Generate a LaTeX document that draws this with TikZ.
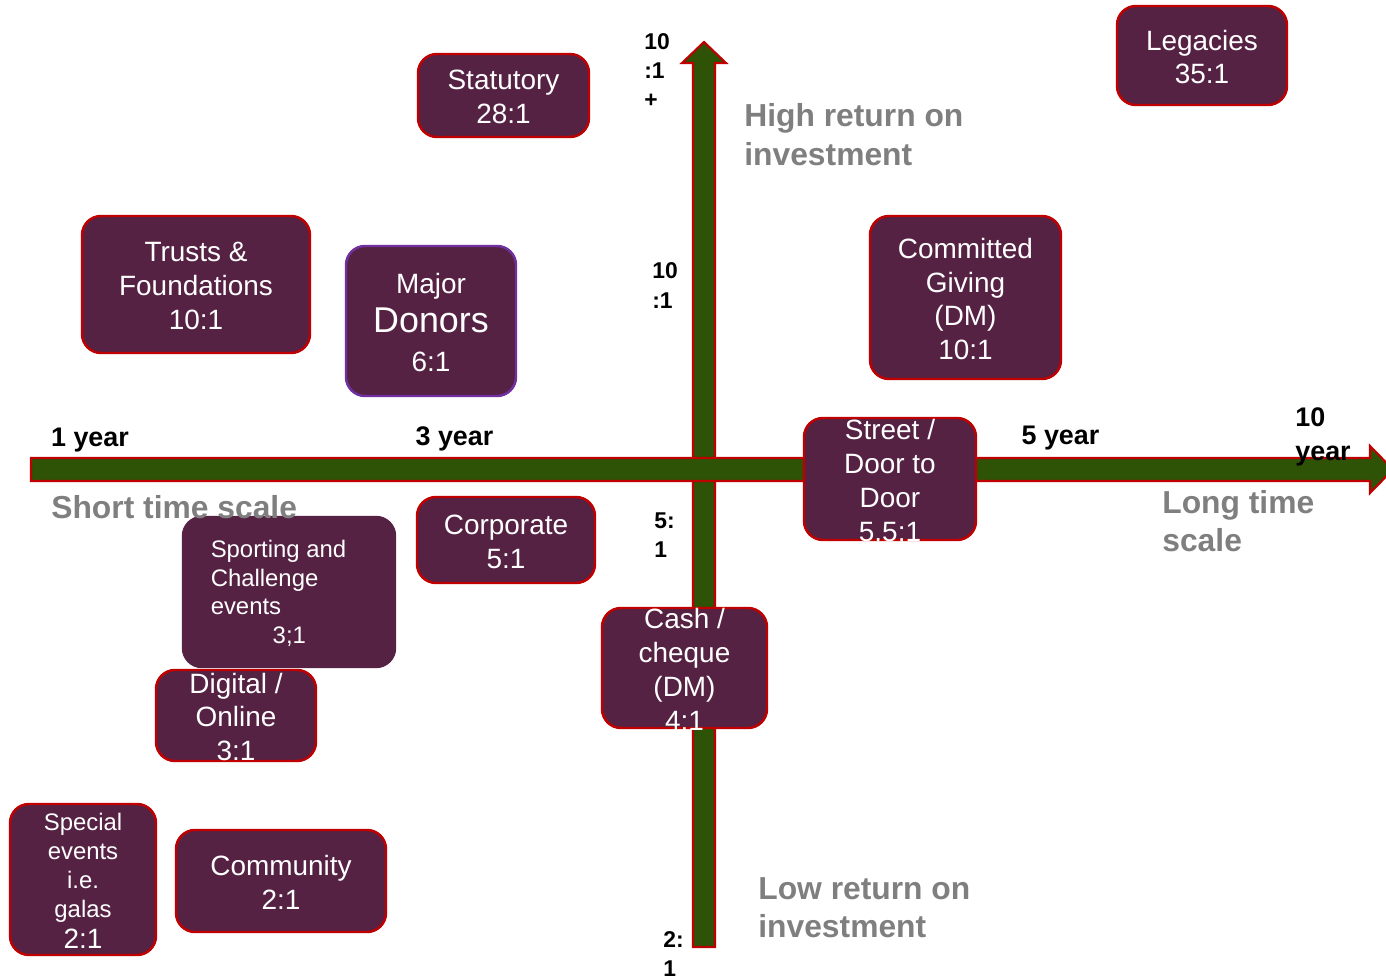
\documentclass[tikz,border=0pt]{standalone}
\usepackage{fontspec}
\setmainfont{Liberation Sans}
\usetikzlibrary{fit}

\definecolor{plum}{RGB}{86,34,68}
\definecolor{boxred}{RGB}{192,0,0}
\definecolor{axisgreen}{RGB}{46,82,6}
\definecolor{lblgray}{RGB}{127,127,127}
\definecolor{donorpurple}{RGB}{112,48,160}

\tikzset{
  box/.style={draw=boxred, fill=plum, line width=1.4pt, rounded corners=0.38cm, inner sep=0pt},
  boxtext/.style={text=white, align=center, font=\fontsize{15.9}{19.3}\selectfont, inner sep=0pt, yshift=-0.03cm},
  smalltext/.style={text=white, align=center, font=\fontsize{13.6}{16.4}\selectfont, inner sep=0pt, yshift=-0.03cm},
  yearlabel/.style={font=\bfseries\fontsize{15.3}{19.5}\selectfont, inner sep=0pt, yshift=-0.05cm},
  ratiolabel/.style={font=\bfseries\fontsize{13}{16.7}\selectfont, align=left, inner sep=0pt, anchor=west},
  scalelabel/.style={text=lblgray, font=\bfseries\fontsize{18.1}{21.8}\selectfont, align=left, inner sep=0pt, anchor=west},
  axisbar/.style={draw=boxred, fill=axisgreen, line width=1.2pt},
}

\begin{document}
\begin{tikzpicture}[x=0.02cm, y=-0.02cm]
\useasboundingbox (0,0) rectangle (1386,979);

 \filldraw[axisbar] (693,947) -- (693,63) -- (682,63) -- (704,42) -- (726,63) -- (715,63) -- (715,947) -- cycle;
 \filldraw[axisbar] (31,458) -- (1370,458) -- (1370,446) -- (1393,469.5) -- (1370,493) -- (1370,481) -- (31,481) -- cycle;

 \node[box, fit={(418,54) (589,137)}] (b1) {};
 \node[boxtext] (t1) at (b1) {Statutory\\28:1};

 \node[box, fit={(1117,6) (1287,105)}] (b2) {};
 \node[boxtext] (t2) at (b2) {Legacies\\35:1};

 \node[box, fit={(82,216) (310,353)}] (b3) {};
 \node[boxtext] (t3) at (b3) {Trusts \&\\Foundations\\10:1};

 \node[box, draw=donorpurple, fit={(346,246) (516,396)}] (b4) {};
 \node[boxtext] (t4) at (b4) {Major\\[3pt]{\fontsize{20.4}{24}\selectfont Donors}\\[2.5pt]6:1};

 \node[box, fit={(870,216) (1061,379)}] (b5) {};
 \node[boxtext] (t5) at (b5) {Committed\\Giving\\(DM)\\10:1};

 \node[box, fit={(804,418) (976,540)}] (b6) {};
 \node[boxtext] (t6) at (b6) {Street /\\Door to\\Door\\5.5:1};

 \node[box, fit={(417,497) (595,583)}] (b7) {};
 \node[boxtext] (t7) at (b7) {Corporate\\5:1};

 \node[box, draw=plum, fit={(183,517) (395,667)}] (b8) {};
 \node[smalltext, align=left, font=\fontsize{13.6}{16.2}\selectfont] (t8) at (278.5,592) {Sporting and\\Challenge\\events\\\hspace*{1.24cm}3;1};

 \node[box, fit={(156,670) (316,761)}] (b9) {};
 \node[boxtext] (t9) at (b9) {Digital /\\Online\\3:1};

 \node[box, fit={(602,608) (767,728)}] (b10) {};
 \node[boxtext] (t10) at (b10) {Cash /\\cheque\\(DM)\\4:1};

 \node[box, fit={(10,804) (156,955)}] (b11) {};
 \node[smalltext] (t11) at (b11) {Special\\events\\i.e.\\galas\\[1.2pt]{\fontsize{15.9}{19}\selectfont 2:1}};

 \node[box, fit={(176,830) (386,932)}] (b12) {};
 \node[boxtext] (t12) at (b12) {Community\\2:1};

 \node[yearlabel] (y1) at (90,438) {1 year};
 \node[yearlabel] (y3) at (454.5,436) {3 year};
 \node[yearlabel] (y5) at (1060.5,436) {5 year};
 \node[yearlabel, align=left, anchor=west] (y10) at (1295,434.5) {10\\year};

 \node[ratiolabel] (r1) at (644,70.5) {10\\:1\\+};
 \node[ratiolabel] (r2) at (652,285.5) {10\\:1};
 \node[ratiolabel] (r3) at (654,535) {5:\\1};
 \node[ratiolabel] (r4) at (663,954) {2:\\1};

 \node[scalelabel] (s1) at (51,507) {Short time scale};
 \node[scalelabel] (s2) at (1162,521) {Long time\\scale};
 \node[scalelabel] (s3) at (744,134.5) {High return on\\investment};
 \node[scalelabel] (s4) at (758,908) {Low return on\\investment};

\end{tikzpicture}
\end{document}
